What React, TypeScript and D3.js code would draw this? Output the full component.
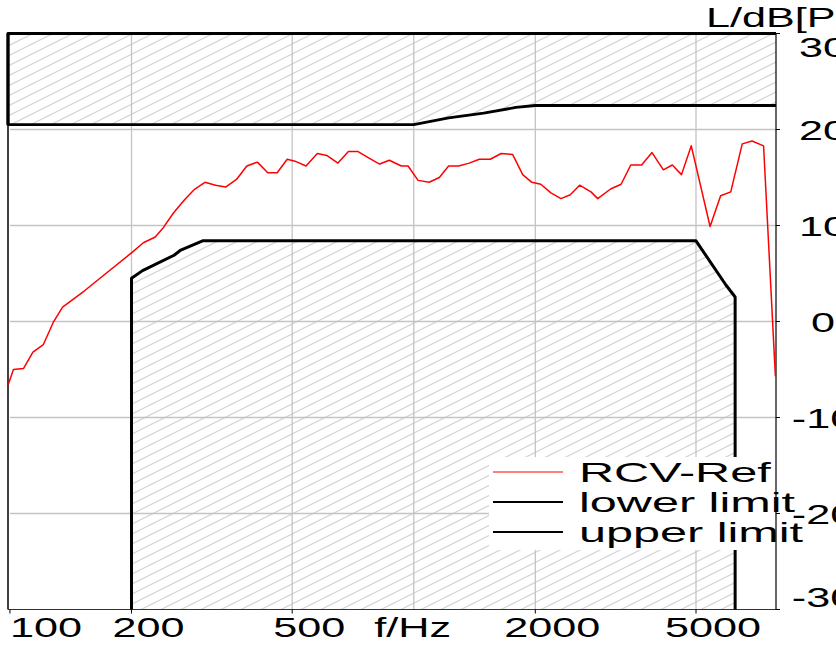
import React from "react";
import * as d3 from "d3";

// measured reference curve (1/12 octave-ish points)
const refFreq = [
  99, 102, 108, 114, 121, 128, 135, 153, 202, 214, 229, 240, 254, 271, 287,
  304, 323, 342, 364, 386, 410, 435, 459, 486, 508, 541, 577, 609, 649, 689,
  728, 773, 823, 870, 932, 968, 1025, 1092, 1157, 1220, 1291, 1372, 1453, 1547,
  1646, 1757, 1861, 1961, 2064, 2186, 2316, 2442, 2575, 2747, 2855, 3072, 3262,
  3447, 3667, 3891, 4151, 4367, 4603, 4867, 5418, 5754, 6096, 6508, 6884, 7350,
  7863,
];
const refDb = [
  -6.6, -5.0, -4.9, -3.2, -2.4, -0.1, 1.5, 3.2, 7.3, 8.2, 8.8, 9.8, 11.3, 12.7,
  13.8, 14.5, 14.2, 14.0, 14.8, 16.2, 16.6, 15.5, 15.5, 16.9, 16.7, 16.2, 17.5,
  17.3, 16.5, 17.7, 17.7, 17.05, 16.4, 16.8, 16.2, 16.2, 14.7, 14.5, 15.0, 16.2,
  16.2, 16.5, 16.9, 16.9, 17.5, 17.4, 15.3, 14.5, 14.3, 13.4, 12.8, 13.2, 14.2,
  13.5, 12.8, 13.8, 14.3, 16.3, 16.3, 17.6, 15.8, 16.3, 15.3, 18.3, 9.9, 13.1,
  13.5, 18.5, 18.8, 18.3, -5.7,
];

const upperFreq = [98.9, 1000, 1220, 1490, 1790, 2000, 7890];
const upperDb = [20.5, 20.5, 21.2, 21.7, 22.3, 22.5, 22.5];

const lowerFreq = [200, 200, 213, 255, 264, 300, 5000, 5930, 6250, 6250];
const lowerDb = [-30, 4.5, 5.3, 6.9, 7.4, 8.4, 8.4, 3.8, 2.55, -30];

const freqDomain = [98.9, 7890];
const dbDomain = [-30, 30];
const xTickValues = [100, 200, 500, 2000, 5000];
const xGridValues = [200, 500, 1000, 2000, 5000];
const yTickValues = [30, 20, 10, 0, -10, -20, -30];
const legendItems = [
  { label: "RCV-Ref", color: "#ff0000", width: 1 },
  { label: "lower limit", color: "#000", width: 2 },
  { label: "upper limit", color: "#000", width: 2 },
];

const W = 836;
const H = 647;
const FONT = "'Liberation Sans', Arial, sans-serif";

export default function App() {
  const x = d3.scaleLog().domain(freqDomain).range([8, 776]);
  const y = d3.scaleLinear().domain(dbDomain).range([609.5, 33.5]);
  const [x0, x1] = x.range();
  const [yb, yt] = y.range();

  const line = d3
    .line<[number, number]>()
    .x((d) => x(d[0]))
    .y((d) => y(d[1]));

  const refPts = refFreq.map((f, i) => [f, refDb[i]] as [number, number]);
  const upperPts = upperFreq.map((f, i) => [f, upperDb[i]] as [number, number]);
  const lowerPts = lowerFreq.map((f, i) => [f, lowerDb[i]] as [number, number]);

  // hatched areas
  const upperArea =
    line([[freqDomain[0], 30], [freqDomain[1], 30], ...[...upperPts].reverse()] as [number, number][]) + "Z";
  const upperOutline = line([[freqDomain[1], 30], [freqDomain[0], 30], ...upperPts] as [number, number][]);
  const lowerArea = line(lowerPts) + "Z";
  const lowerOutline = line(lowerPts);

  // right labels are kept inside the plot's height
  const labelBase = (v: number) => Math.min(Math.max(y(v) + 10, yt + 23), yb - 2.5);

  return (
    <svg
      width={W}
      height={H}
      style={{ position: "fixed", left: 0, top: 0, background: "#fff" }}
      fontFamily={FONT}
    >
      <defs>
        <pattern id="hatch" patternUnits="userSpaceOnUse" width={20} height={10}>
          <path d="M-2,11 L22,-1" stroke="#d6d6d6" strokeWidth={1.3} />
          <path d="M-22,11 L2,-1" stroke="#d6d6d6" strokeWidth={1.3} />
          <path d="M18,11 L42,-1" stroke="#d6d6d6" strokeWidth={1.3} />
        </pattern>
      </defs>
      <rect width={W} height={H} fill="#fff" />

      {/* hatched limit regions */}
      <path d={upperArea} fill="url(#hatch)" />
      <path d={lowerArea} fill="url(#hatch)" />

      {/* grid */}
      {xGridValues.map((v) => (
        <line key={"gx" + v} x1={x(v)} x2={x(v)} y1={yt} y2={yb} stroke="#c4c4c4" strokeWidth={1.3} />
      ))}
      {yTickValues
        .filter((v) => v !== 30 && v !== -30)
        .map((v) => (
          <line key={"gy" + v} x1={x0 + 2} x2={x1} y1={y(v)} y2={y(v)} stroke="#c4c4c4" strokeWidth={1.3} />
        ))}

      {/* frame */}
      <line x1={x0} x2={x0} y1={yt} y2={yb} stroke="#000" strokeWidth={1.5} />
      <line x1={x0} x2={x1} y1={yb} y2={yb} stroke="#333" strokeWidth={1.2} />
      <line x1={x1} x2={x1} y1={yt} y2={yb} stroke="#000" strokeWidth={1.2} />
      {yTickValues.map((v) => (
        <line key={"ty" + v} x1={x1} x2={x1 + 4} y1={y(v)} y2={y(v)} stroke="#000" strokeWidth={1} />
      ))}
      {xTickValues.map((v) => (
        <line key={"tx" + v} x1={x(v)} x2={x(v)} y1={yb} y2={yb + 4} stroke="#000" strokeWidth={1} />
      ))}

      {/* limits */}
      <path d={upperOutline ?? ""} fill="none" stroke="#000" strokeWidth={2.8} strokeLinejoin="round" />
      <line x1={x0} x2={x0} y1={yt} y2={y(upperDb[0])} stroke="#000" strokeWidth={3} />
      <path d={lowerOutline ?? ""} fill="none" stroke="#000" strokeWidth={3} strokeLinejoin="round" />

      {/* reference curve */}
      <path d={line(refPts) ?? ""} fill="none" stroke="#ff0000" strokeWidth={1.5} strokeLinejoin="round" />

      {/* legend */}
      <rect x={489} y={457} width={286} height={93} fill="#fff" />
      {legendItems.map((it, i) => {
        const by = 482 + i * 30;
        return (
          <g key={it.label}>
            <line x1={493} x2={563} y1={by - 10} y2={by - 10} stroke={it.color} strokeWidth={it.width} />
            <text transform={`translate(579,${by}) scale(1.8,1)`} fontSize={27} fill="#000">
              {it.label}
            </text>
          </g>
        );
      })}

      {/* bottom tick labels */}
      {xTickValues.map((v, i) => (
        <text
          key={"lx" + v}
          transform={`translate(${i === 0 ? x(v) : x(v) + 17},637) scale(1.6,1)`}
          textAnchor={i === 0 ? "start" : "middle"}
          fontSize={27}
          fill="#000"
        >
          {v}
        </text>
      ))}
      <text transform={`translate(${x(1000) - 1},637) scale(1.6,1)`} textAnchor="middle" fontSize={27} fill="#000">
        f/Hz
      </text>

      {/* right tick labels */}
      {yTickValues.map((v) => (
        <text
          key={"ly" + v}
          transform={`translate(823,${labelBase(v)}) scale(1.6,1)`}
          textAnchor="middle"
          fontSize={27}
          fill="#000"
        >
          {v}
        </text>
      ))}
      <text transform="translate(706,27) scale(1.6,1)" fontSize={27} fill="#000">
        L/dB[Pa]
      </text>
    </svg>
  );
}
